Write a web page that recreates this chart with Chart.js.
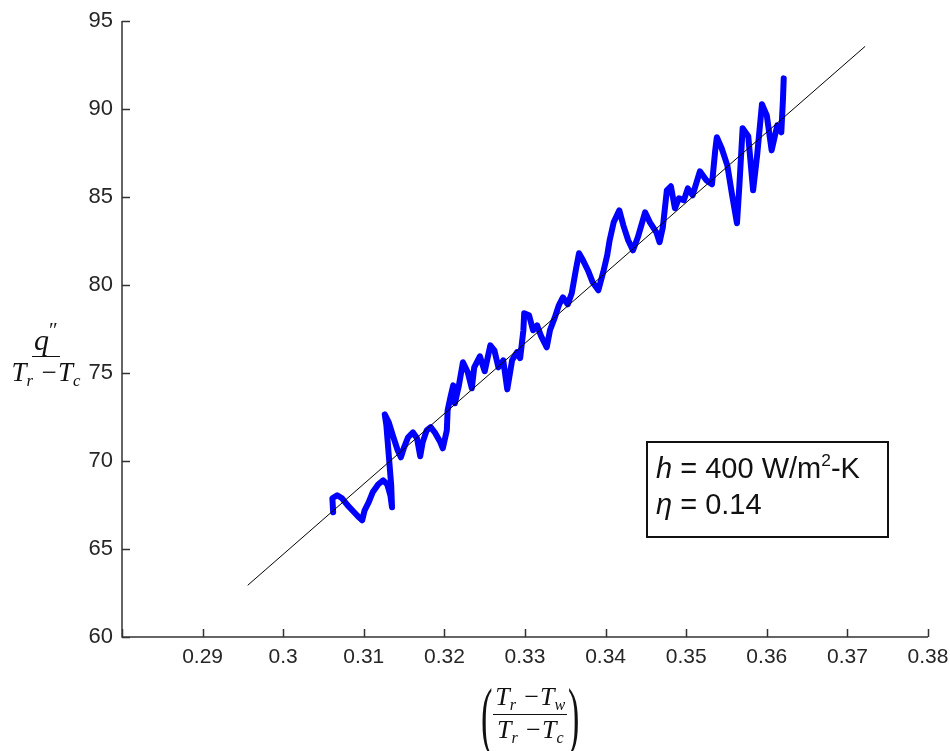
<!DOCTYPE html>
<html>
<head>
<meta charset="utf-8">
<script src="https://cdn.jsdelivr.net/npm/chart.js@4.4.1/dist/chart.umd.min.js"></script>
<style>
  body { margin: 0; background: #fff; }
  #wrap { position: relative; width: 950px; height: 751px; }
  .serif { position: absolute; font-family: "Liberation Serif", "Times New Roman", serif; font-style: italic; color: #111; }
  .frac { display: inline-flex; flex-direction: column; align-items: center; }
  .frac .num { border-bottom: 1.5px solid #111; padding: 0 2px 1px; line-height: 1; }
  .frac .den { padding-top: 2px; line-height: 1; }
  .serif sub { font-size: 62%; vertical-align: -0.3em; }
  .paren { font-style: normal; font-size: 76px; line-height: 66px; display: inline-block; transform: scaleX(0.45); }
  #note { position: absolute; left: 646px; top: 441px; width: 243px; height: 97px; box-sizing: border-box;
          border: 2px solid #111; font-family: "Liberation Sans", Arial, sans-serif; font-size: 29px; color: #111;
          padding: 7px 0 0 8px; line-height: 36px; }
  #note sup { font-size: 60%; vertical-align: 0.7em; line-height: 0; }
</style>
</head>
<body>
<div id="wrap">
  <canvas id="chart"></canvas>
  <div class="serif" style="left:9px; top:320px; width:74px; text-align:center; font-size:27px;">
    <div class="frac">
      <div class="num" style="font-size:30px;">q<span style="font-style:normal; font-size:70%; vertical-align:0.6em;">″</span></div>
      <div class="den">T<sub>r</sub> −T<sub>c</sub></div>
    </div>
  </div>
  <div class="serif" style="left:474px; top:681px; height:68px; display:flex; align-items:center; font-size:26px;">
    <span class="paren">(</span>
    <div class="frac" style="margin:0 -6px;">
      <div class="num">T<sub>r</sub> −T<sub>w</sub></div>
      <div class="den">T<sub>r</sub> −T<sub>c</sub></div>
    </div>
    <span class="paren">)</span>
  </div>
  <div id="note"><i>h</i> = 400 W/m<sup>2</sup>-K<br><i>η</i> = 0.14</div>
</div>
<script>
// measured trace (x = (Tr-Tw)/(Tr-Tc), y = q''/(Tr-Tc))
const traceX = [0.3062, 0.3061, 0.3067, 0.3073, 0.3080, 0.3088, 0.3094, 0.3098, 0.3101, 0.3106,
  0.3111, 0.3118, 0.3124, 0.3129, 0.3133, 0.3135, 0.3134, 0.3131, 0.3128, 0.3126,
  0.3131, 0.3136, 0.3142, 0.3146, 0.3150, 0.3155, 0.3161, 0.3166, 0.3170, 0.3173,
  0.3178, 0.3183, 0.3188, 0.3195, 0.3198, 0.3203, 0.3204, 0.3208, 0.3211, 0.3213,
  0.3218, 0.3223, 0.3229, 0.3234, 0.3237, 0.3244, 0.3250, 0.3257, 0.3262, 0.3267,
  0.3273, 0.3278, 0.3284, 0.3290, 0.3294, 0.3298, 0.3299, 0.3305, 0.3310, 0.3315,
  0.3320, 0.3327, 0.3331, 0.3337, 0.3342, 0.3347, 0.3353, 0.3358, 0.3363, 0.3367,
  0.3372, 0.3378, 0.3384, 0.3391, 0.3397, 0.3402, 0.3405, 0.3410, 0.3417, 0.3422,
  0.3428, 0.3434, 0.3440, 0.3449, 0.3455, 0.3463, 0.3467, 0.3471, 0.3476, 0.3481,
  0.3486, 0.3491, 0.3497, 0.3502, 0.3508, 0.3517, 0.3525, 0.3532, 0.3536, 0.3538,
  0.3544, 0.3551, 0.3557, 0.3563, 0.3566, 0.3570, 0.3577, 0.3583, 0.3588, 0.3594,
  0.3600, 0.3606, 0.3613, 0.3618, 0.3620, 0.3621];
const traceY = [67.09, 67.88, 68.05, 67.88, 67.48, 67.09, 66.80, 66.63, 67.20, 67.65,
  68.22, 68.68, 68.90, 68.68, 68.05, 67.37, 68.62, 70.32, 72.03, 72.65,
  72.20, 71.46, 70.61, 70.21, 70.78, 71.35, 71.63, 71.29, 70.27, 71.06,
  71.74, 71.92, 71.63, 71.06, 70.72, 71.74, 72.88, 73.73, 74.30, 73.28,
  74.30, 75.61, 75.04, 74.13, 75.32, 75.95, 75.10, 76.57, 76.29, 75.32,
  75.72, 74.07, 75.72, 76.18, 75.84, 77.43, 78.39, 78.28, 77.43, 77.71,
  77.09, 76.46, 77.43, 78.16, 78.85, 79.30, 78.90, 79.53, 80.84, 81.80,
  81.40, 80.84, 80.15, 79.70, 80.72, 81.69, 82.54, 83.56, 84.24, 83.39,
  82.54, 81.97, 82.71, 84.13, 83.56, 82.99, 82.43, 83.28, 85.38, 85.61,
  84.36, 84.93, 84.81, 85.49, 85.10, 86.46, 85.95, 85.72, 87.65, 88.39,
  87.77, 86.80, 85.10, 83.51, 85.66, 88.90, 88.45, 85.38, 87.37, 90.27,
  89.64, 87.65, 89.07, 88.68, 90.49, 91.74];

// straight fit line end points
const fitX = [0.2956, 0.3722];
const fitY = [62.94, 93.56];

const xRange = [0.28, 0.38];
const yRange = [60, 95];

const tickFont = { family: "'Liberation Sans', Arial, sans-serif", size: 21 };

// MATLAB style axes: left + bottom line, ticks pointing inward
const innerTicks = {
  id: "innerTicks",
  afterDraw(chart) {
    const { ctx, chartArea: a, scales: { x, y } } = chart;
    ctx.save();
    ctx.strokeStyle = "#333";
    ctx.lineWidth = 1.5;
    ctx.beginPath();
    ctx.moveTo(a.left, a.top);
    ctx.lineTo(a.left, a.bottom);
    ctx.lineTo(a.right, a.bottom);
    x.ticks.forEach(t => {
      const px = Math.round(x.getPixelForValue(t.value)) + 0.5;
      ctx.moveTo(px, a.bottom);
      ctx.lineTo(px, a.bottom - 8);
    });
    y.ticks.forEach(t => {
      const py = Math.round(y.getPixelForValue(t.value)) + 0.5;
      ctx.moveTo(a.left, py);
      ctx.lineTo(a.left + 8, py);
    });
    ctx.stroke();
    ctx.restore();
  }
};

new Chart(document.getElementById("chart"), {
  type: "scatter",
  data: {
    datasets: [
      {
        data: fitX.map((v, i) => ({ x: v, y: fitY[i] })),
        showLine: true,
        borderColor: "#000",
        borderWidth: 1,
        pointRadius: 0
      },
      {
        data: traceX.map((v, i) => ({ x: v, y: traceY[i] })),
        showLine: true,
        borderColor: "#0000ff",
        borderWidth: 6,
        borderJoinStyle: "round",
        borderCapStyle: "round",
        pointRadius: 0
      }
    ]
  },
  options: {
    responsive: true,
    maintainAspectRatio: false,
    animation: false,
    layout: { padding: { top: 21, right: 22, left: 0, bottom: 0 } },
    plugins: { legend: { display: false }, tooltip: { enabled: false } },
    scales: {
      x: {
        type: "linear",
        min: xRange[0],
        max: xRange[1],
        grid: { display: false, drawTicks: false },
        border: { display: false },
        ticks: {
          stepSize: 0.01,
          padding: 8,
          color: "#262626",
          font: tickFont,
          maxRotation: 0,
          callback: (v, i) => i === 0 ? "" : String(Number(v.toFixed(2)))
        },
        afterFit: s => { s.height = 114; s.paddingLeft = 0; s.paddingRight = 0; }
      },
      y: {
        min: yRange[0],
        max: yRange[1],
        grid: { display: false, drawTicks: false },
        border: { display: false },
        ticks: { stepSize: 5, padding: 9, color: "#262626", font: { ...tickFont, size: 22 } },
        afterFit: s => { s.width = 122; s.paddingTop = 0; s.paddingBottom = 0; }
      }
    }
  },
  plugins: [innerTicks]
});
</script>
</body>
</html>
